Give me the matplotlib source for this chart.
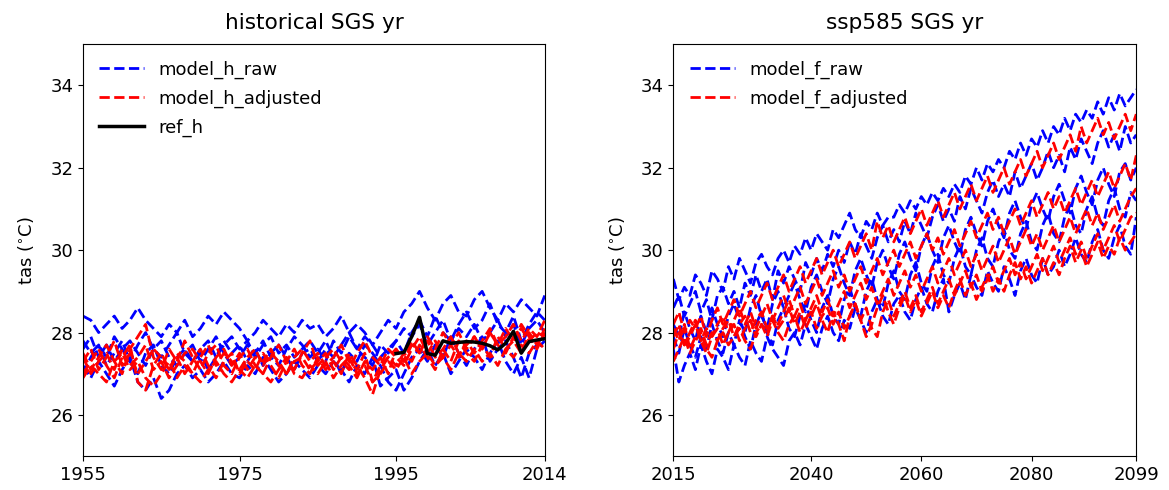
import numpy as np
import matplotlib
matplotlib.use("Agg")
import matplotlib.pyplot as plt

# ---- historical 1955-2014 ----
hist_years = list(range(1955, 2015))

model_h_raw = [
    [28.4, 28.3, 28.0, 28.2, 28.4, 28.1, 28.3, 28.6, 28.3, 28.1,
     27.9, 28.2, 28.0, 28.3, 27.9, 28.1, 28.4, 28.2, 28.5, 28.3,
     28.1, 27.8, 28.0, 28.3, 28.1, 27.9, 28.2, 28.0, 28.3, 28.1,
     28.2, 27.9, 28.1, 28.4, 28.0, 28.2, 28.0, 27.7, 28.0, 28.3,
     28.1, 28.5, 28.7, 29.0, 28.6, 28.3, 28.7, 28.9, 28.5, 28.4,
     28.8, 29.0, 28.6, 28.3, 28.7, 28.5, 28.8, 28.6, 28.4, 28.9],
    [27.6, 27.9, 27.4, 27.7, 27.3, 27.6, 27.8, 27.5, 27.2, 27.6,
     27.8, 27.4, 27.2, 27.5, 27.7, 27.3, 27.6, 27.9, 27.5, 27.2,
     27.4, 27.7, 27.5, 27.8, 27.4, 27.2, 27.6, 27.9, 27.7, 27.4,
     27.6, 27.3, 27.8, 27.5, 27.9, 27.6, 27.4, 27.2, 27.7, 27.5,
     27.8, 28.1, 27.9, 28.2, 27.7, 28.0, 28.3, 27.8, 28.1, 27.9,
     28.2, 27.8, 28.0, 28.3, 27.9, 28.2, 27.7, 28.1, 28.3, 28.0],
    [27.2, 26.9, 27.3, 27.0, 26.7, 27.1, 27.4, 26.8, 26.6, 26.9,
     26.4, 26.6, 27.0, 27.2, 26.9, 27.1, 26.8, 27.0, 27.3, 27.0,
     26.9, 27.2, 27.0, 27.4, 27.1, 26.8, 27.0, 27.3, 27.1, 26.9,
     27.2, 27.0, 27.3, 27.1, 26.8, 27.2, 27.0, 27.4, 26.7, 26.9,
     27.1, 26.6, 26.9, 27.3, 27.6, 27.2, 27.5, 27.0, 27.3, 27.6,
     27.4, 27.1, 27.5, 27.8, 27.3, 27.0, 27.4, 26.9, 27.6, 27.8],
    [27.0, 27.4, 27.7, 27.2, 27.5, 27.8, 27.3, 27.0, 27.5, 27.7,
     27.2, 27.0, 27.4, 27.6, 27.3, 27.5, 27.1, 27.4, 27.8, 27.5,
     27.7, 27.3, 27.6, 27.2, 27.5, 27.7, 27.4, 27.1, 27.5, 27.6,
     27.3, 27.6, 27.4, 27.0, 27.5, 27.3, 27.7, 27.5, 27.2, 26.8,
     26.6, 27.0, 27.4, 27.6, 27.3, 27.7, 27.4, 27.9, 27.5, 27.2,
     27.6, 27.9, 27.3, 27.6, 27.8, 27.4, 26.9, 27.5, 27.7, 28.0],
    [27.8, 27.5, 27.7, 27.4, 27.9, 27.6, 27.3, 27.7, 28.0, 27.6,
     27.4, 27.7, 28.0, 27.5, 27.3, 27.6, 27.8, 27.4, 27.7, 27.9,
     27.6, 27.8, 27.4, 27.7, 27.9, 27.5, 27.7, 27.4, 27.6, 27.8,
     27.5, 27.8, 27.4, 27.7, 28.0, 27.6, 27.9, 27.7, 27.4, 27.6,
     27.8, 27.5, 28.0, 28.3, 27.9, 28.4, 28.0, 27.8, 28.2, 28.5,
     28.1, 28.3, 28.7, 28.2, 28.0, 28.4, 27.8, 28.2, 28.5, 28.3],
]

model_h_adjusted = [
    [27.3, 27.6, 27.1, 27.4, 27.8, 27.2, 27.5, 27.0, 27.3, 27.6,
     27.4, 27.1, 27.5, 27.3, 27.0, 27.4, 27.7, 27.2, 27.5, 27.3,
     27.1, 27.4, 27.6, 27.2, 27.5, 27.3, 27.0, 27.4, 27.6, 27.3,
     27.5, 27.2, 27.4, 27.7, 27.3, 27.1, 27.5, 26.8, 27.2, 27.4,
     27.6, 27.3, 27.7, 27.5, 27.8, 27.4, 27.6, 27.9, 27.5, 27.7,
     27.9, 27.6, 28.0, 27.7, 27.5, 27.9, 28.1, 27.8, 28.0, 27.9],
    [27.0, 27.3, 27.6, 27.2, 26.9, 27.4, 27.7, 26.8, 26.6, 27.2,
     27.5, 27.1, 27.4, 27.0, 27.3, 27.6, 27.2, 26.9, 27.3, 27.5,
     27.0, 27.3, 27.1, 27.5, 27.2, 26.9, 27.3, 27.6, 27.2, 27.0,
     27.4, 27.1, 27.3, 27.0, 27.5, 27.2, 26.9, 26.5, 27.1, 27.4,
     27.2, 27.5, 27.3, 27.7, 27.4, 27.1, 27.6, 27.3, 27.8, 27.5,
     27.3, 27.7, 27.4, 27.9, 27.6, 27.8, 27.5, 28.0, 27.7, 28.1],
    [27.5, 27.1, 27.4, 27.7, 27.3, 27.0, 27.6, 27.9, 28.2, 27.4,
     27.1, 27.6, 27.3, 27.8, 27.4, 27.1, 27.5, 27.7, 27.2, 27.0,
     27.4, 27.6, 27.2, 27.0, 27.4, 27.7, 27.3, 27.1, 27.5, 27.8,
     27.2, 27.4, 27.6, 27.3, 27.1, 27.5, 27.8, 27.4, 27.2, 27.6,
     27.4, 27.2, 27.6, 27.9, 27.5, 27.8, 27.4, 27.7, 28.0, 27.6,
     27.9, 27.6, 28.0, 27.7, 28.1, 27.8, 28.2, 27.9, 27.6, 28.0],
    [26.9, 27.2, 27.0, 26.8, 27.3, 27.5, 27.1, 27.3, 26.9, 26.7,
     27.0, 27.3, 26.9, 27.2, 27.0, 26.8, 27.1, 27.3, 27.0, 26.8,
     27.1, 26.9, 27.2, 27.0, 26.8, 27.1, 27.4, 27.0, 26.9, 27.2,
     27.0, 27.3, 26.9, 27.2, 27.4, 27.0, 27.2, 26.8, 27.0, 27.3,
     27.1, 27.4, 27.0, 27.3, 27.5, 27.2, 27.4, 27.1, 27.5, 27.3,
     27.6, 27.3, 27.5, 27.2, 27.6, 27.4, 27.7, 27.5, 27.8, 27.6],
    [27.4, 27.0, 27.3, 27.5, 27.1, 27.6, 27.2, 27.4, 27.7, 27.1,
     27.3, 26.9, 27.2, 27.5, 27.6, 27.3, 27.0, 27.4, 27.6, 27.2,
     27.5, 27.1, 27.4, 27.3, 27.6, 27.2, 27.0, 27.3, 27.4, 27.1,
     27.3, 27.5, 27.1, 27.4, 27.2, 26.9, 27.3, 27.1, 27.4, 27.0,
     27.6, 27.3, 27.8, 27.5, 27.9, 27.6, 28.0, 27.7, 27.4, 27.8,
     27.5, 27.8, 28.1, 27.7, 27.9, 28.2, 27.8, 28.1, 27.9, 28.3],
]

ref_years = list(range(1995, 2015))
ref_h = [27.49, 27.52, 27.90, 28.37, 27.49, 27.45, 27.80, 27.74, 27.76, 27.78,
         27.77, 27.74, 27.68, 27.58, 27.74, 28.03, 27.50, 27.78, 27.82, 27.85]

# ---- ssp585 2015-2099 ----
fut_years = list(range(2015, 2100))

model_f_raw = [
    [29.3, 28.8, 29.1, 28.9, 29.4, 29.2, 28.9, 29.5, 29.3, 29.0,
     29.6, 29.3, 29.8, 29.5, 29.2, 29.7, 29.9, 29.6, 29.4, 29.8,
     30.0, 29.7, 30.1, 29.9, 30.3, 30.0, 30.4, 30.2, 30.0, 30.5,
     30.3, 30.6, 30.9, 30.5, 30.3, 30.7, 30.5, 30.9, 30.6, 30.8,
     30.8, 31.1, 30.9, 31.2, 31.0, 31.3, 31.1, 31.4, 31.2, 31.5,
     31.3, 31.6, 31.4, 31.8, 31.6, 32.0, 31.7, 32.1, 31.9, 32.2,
     32.0, 32.4, 32.2, 32.6, 32.3, 32.7, 32.5, 32.9, 32.6, 33.0,
     32.8, 33.2, 32.9, 33.3, 33.1, 33.4, 33.2, 33.6, 33.3, 33.7,
     33.4, 33.8, 33.5, 33.7, 33.9],
    [28.6, 28.9, 28.4, 28.7, 29.0, 28.5, 28.8, 28.3, 28.9, 29.1,
     28.7, 29.0, 28.6, 29.2, 28.9, 29.4, 29.0, 29.3, 28.8, 29.5,
     29.2, 29.6, 29.3, 29.0, 29.7, 29.4, 29.8, 29.5, 29.9, 29.6,
     30.0, 29.7, 30.2, 29.9, 30.4, 30.1, 29.8, 30.3, 30.6, 30.2,
     30.5, 30.2, 30.7, 30.4, 30.9, 30.6, 30.3, 30.8, 31.1, 30.7,
     31.0, 30.7, 31.3, 31.0, 31.5, 31.2, 30.9, 31.4, 31.7, 31.3,
     31.6, 31.3, 31.9, 31.5, 31.8, 32.1, 31.7, 32.0, 32.4, 32.0,
     32.3, 31.9, 32.5, 32.2, 32.7, 32.4, 32.1, 32.6, 32.9, 32.5,
     32.8, 32.4, 33.0, 32.6, 32.8],
    [28.2, 27.9, 28.5, 28.1, 27.8, 28.4, 28.0, 28.6, 28.2, 27.9,
     28.4, 28.7, 28.3, 28.0, 28.6, 28.9, 28.4, 28.1, 28.7, 29.0,
     28.6, 28.9, 29.2, 28.8, 28.5, 29.1, 29.4, 29.0, 28.7, 29.3,
     29.6, 29.2, 28.9, 29.5, 29.8, 29.4, 29.1, 29.7, 30.0, 29.6,
     29.3, 29.9, 30.2, 29.8, 29.5, 30.1, 30.4, 30.0, 29.7, 30.3,
     30.6, 30.2, 29.9, 30.5, 30.8, 30.4, 30.1, 30.7, 31.0, 30.6,
     30.3, 30.9, 31.2, 30.8, 30.5, 31.1, 31.4, 31.0, 30.7, 31.3,
     31.6, 31.2, 30.9, 31.5, 31.8, 31.4, 31.1, 31.7, 32.0, 31.6,
     31.3, 31.9, 32.1, 31.7, 32.0],
    [27.9, 27.5, 28.1, 27.7, 27.4, 27.9, 27.6, 28.2, 27.8, 27.5,
     28.0, 27.7, 28.3, 27.9, 27.6, 28.2, 28.5, 28.0, 27.7, 28.3,
     28.6, 28.1, 27.9, 28.4, 28.7, 28.3, 28.0, 28.6, 28.9, 28.4,
     28.2, 28.8, 29.1, 28.6, 28.4, 29.0, 29.3, 28.8, 28.6, 29.2,
     29.5, 29.0, 28.8, 29.4, 29.7, 29.2, 29.0, 29.6, 29.9, 29.4,
     29.2, 29.8, 30.1, 29.6, 29.4, 30.0, 30.3, 29.8, 29.6, 30.2,
     30.5, 30.0, 29.8, 30.4, 30.7, 30.2, 30.0, 30.6, 30.9, 30.4,
     30.2, 30.8, 31.1, 30.6, 30.4, 31.0, 31.3, 30.8, 30.6, 31.2,
     31.5, 31.0, 30.8, 31.4, 31.2],
    [27.6, 26.8, 27.2, 27.5, 27.1, 27.7, 27.3, 27.0, 27.6, 27.4,
     27.1, 27.7, 27.4, 27.2, 27.8, 27.5, 27.3, 27.9, 27.6, 27.4,
     27.2, 27.8, 28.0, 27.7, 28.2, 27.9, 27.6, 28.1, 28.4, 28.0,
     27.8, 28.3, 28.1, 28.6, 28.3, 28.0, 28.5, 28.8, 28.4, 28.2,
     28.7, 28.9, 28.5, 28.3, 28.8, 29.1, 28.7, 28.5, 29.0, 29.3,
     28.5, 28.9, 29.2, 28.8, 29.4, 29.1, 28.9, 29.5, 29.2, 29.0,
     29.6, 29.3, 28.9, 29.5, 29.8, 29.4, 29.2, 29.8, 29.4, 29.6,
     30.0, 29.6, 29.9, 30.3, 29.9, 29.7, 30.2, 30.5, 30.0, 29.8,
     30.3, 30.6, 30.1, 29.9, 30.8],
]

model_f_adjusted = [
    [28.2, 28.5, 28.0, 28.3, 28.1, 28.4, 27.9, 28.3, 28.6, 28.2,
     28.5, 28.8, 28.4, 28.7, 29.0, 28.6, 28.9, 29.2, 28.8, 29.1,
     29.4, 29.0, 29.3, 29.6, 29.2, 29.5, 29.8, 29.4, 29.7, 30.0,
     29.6, 29.9, 30.2, 29.8, 30.1, 30.4, 30.0, 30.7, 30.3, 30.6,
     30.2, 30.5, 30.8, 30.4, 30.7, 31.0, 30.6, 30.9, 31.2, 30.8,
     31.1, 31.4, 31.0, 31.3, 31.6, 31.2, 31.5, 31.8, 31.4, 31.7,
     32.0, 31.6, 31.9, 32.2, 31.8, 32.1, 32.4, 32.0, 32.3, 32.6,
     32.2, 32.5, 32.8, 32.4, 33.0, 32.6, 32.9, 33.2, 32.8, 33.1,
     32.7, 33.0, 33.3, 32.9, 33.3],
    [27.9, 28.2, 27.7, 28.0, 28.3, 27.8, 28.1, 27.9, 28.2, 28.4,
     28.0, 28.3, 28.6, 28.2, 28.5, 28.1, 28.4, 28.7, 28.3, 28.6,
     28.9, 28.5, 28.8, 29.1, 28.7, 29.0, 29.3, 28.9, 29.2, 29.5,
     29.1, 29.4, 29.0, 29.3, 29.6, 29.2, 29.5, 29.8, 29.4, 29.7,
     30.0, 29.6, 29.9, 30.2, 29.8, 30.1, 30.4, 30.0, 30.3, 29.9,
     30.2, 30.5, 30.1, 30.4, 30.7, 30.3, 30.6, 30.9, 30.5, 30.8,
     30.4, 30.7, 31.0, 30.6, 30.9, 31.2, 30.8, 31.1, 31.4, 31.0,
     31.3, 30.9, 31.2, 31.5, 31.1, 31.4, 31.7, 31.3, 31.6, 31.9,
     31.5, 31.8, 32.1, 31.7, 32.3],
    [28.1, 27.8, 28.2, 27.6, 27.9, 28.1, 27.7, 28.0, 27.8, 28.1,
     28.3, 27.9, 28.2, 28.4, 28.0, 28.3, 28.5, 28.1, 28.4, 28.2,
     28.5, 28.8, 28.4, 28.7, 28.3, 28.6, 28.9, 28.5, 28.8, 28.4,
     28.7, 29.0, 28.6, 28.9, 29.2, 28.8, 29.1, 28.7, 29.0, 29.3,
     28.9, 29.2, 29.5, 29.1, 29.4, 29.0, 29.3, 29.6, 29.2, 29.5,
     29.8, 29.4, 29.7, 30.0, 29.6, 29.9, 29.5, 29.8, 30.1, 29.7,
     30.0, 30.3, 29.9, 30.2, 30.5, 30.1, 30.4, 30.0, 30.3, 30.6,
     30.2, 30.5, 30.8, 30.4, 30.7, 31.0, 30.6, 30.9, 30.5, 30.8,
     31.1, 30.7, 31.0, 31.3, 31.5],
    [27.6, 28.0, 27.7, 27.9, 28.2, 27.8, 27.5, 27.9, 28.1, 27.7,
     28.0, 28.2, 27.8, 28.1, 28.3, 27.9, 28.2, 28.0, 28.4, 28.1,
     28.3, 28.6, 28.2, 28.5, 28.1, 28.4, 28.7, 28.3, 28.0, 28.5,
     28.2, 27.8, 28.4, 28.7, 28.3, 28.6, 28.1, 27.9, 28.5, 28.8,
     28.4, 28.7, 29.0, 28.6, 28.9, 28.5, 28.8, 29.1, 28.7, 29.0,
     29.3, 28.9, 29.2, 29.5, 29.1, 29.4, 29.0, 29.3, 29.6, 29.2,
     29.5, 29.8, 29.4, 29.7, 29.3, 29.6, 29.9, 29.5, 29.8, 30.1,
     29.7, 30.0, 30.3, 29.9, 30.2, 29.8, 30.1, 30.4, 30.0, 30.3,
     30.6, 30.2, 30.5, 30.8, 30.9],
    [27.3, 27.6, 27.9, 27.5, 27.8, 28.0, 27.6, 27.4, 27.8, 28.0,
     27.7, 27.9, 28.1, 27.8, 27.6, 28.0, 28.2, 27.9, 28.3, 28.0,
     27.8, 28.2, 28.4, 28.0, 28.3, 28.5, 28.1, 28.4, 28.6, 28.2,
     28.5, 28.1, 28.4, 28.7, 28.3, 27.9, 28.2, 28.6, 28.9, 28.5,
     28.2, 28.6, 28.9, 28.5, 28.8, 28.4, 28.7, 29.0, 28.6, 28.9,
     28.6, 29.0, 29.3, 28.9, 29.2, 28.8, 29.1, 29.4, 29.0, 29.3,
     29.0, 29.4, 29.7, 29.3, 29.6, 29.2, 29.5, 29.8, 29.4, 29.7,
     29.4, 29.8, 30.1, 29.7, 30.0, 29.6, 29.9, 30.2, 29.8, 30.1,
     29.9, 30.3, 30.0, 30.2, 30.4],
]

FS = 13
fig = plt.figure(figsize=(11.69, 4.9), dpi=100)
ax1 = fig.add_axes([0.071, 0.069, 0.395, 0.841])
ax2 = fig.add_axes([0.576, 0.069, 0.396, 0.841])

for i, s in enumerate(model_h_raw):
    ax1.plot(hist_years, s, "--", color="blue", lw=2, label="model_h_raw" if i == 0 else None)
for i, s in enumerate(model_h_adjusted):
    ax1.plot(hist_years, s, "--", color="red", lw=2, label="model_h_adjusted" if i == 0 else None)
ax1.plot(ref_years, ref_h, "-", color="black", lw=2.5, label="ref_h")

for i, s in enumerate(model_f_raw):
    ax2.plot(fut_years, s, "--", color="blue", lw=2, label="model_f_raw" if i == 0 else None)
for i, s in enumerate(model_f_adjusted):
    ax2.plot(fut_years, s, "--", color="red", lw=2, label="model_f_adjusted" if i == 0 else None)

for ax, title, xt in [(ax1, "historical SGS yr", [1955, 1975, 1995, 2014]),
                      (ax2, "ssp585 SGS yr", [2015, 2040, 2060, 2080, 2099])]:
    ax.set_xlim(xt[0], xt[-1])
    ax.set_xticks(xt)
    ax.set_ylim(25, 35)
    ax.set_yticks([26, 28, 30, 32, 34])
    ax.tick_params(labelsize=FS)
    ax.set_ylabel(r"tas ($^{\circ}$C)", fontsize=FS, labelpad=10)
    ax.set_title(title, fontsize=FS * 1.2, pad=11)
    ax.legend(loc="upper left", frameon=False, fontsize=FS,
              handlelength=2.5, labelspacing=0.6)

fig.savefig("out.png", dpi=100)
